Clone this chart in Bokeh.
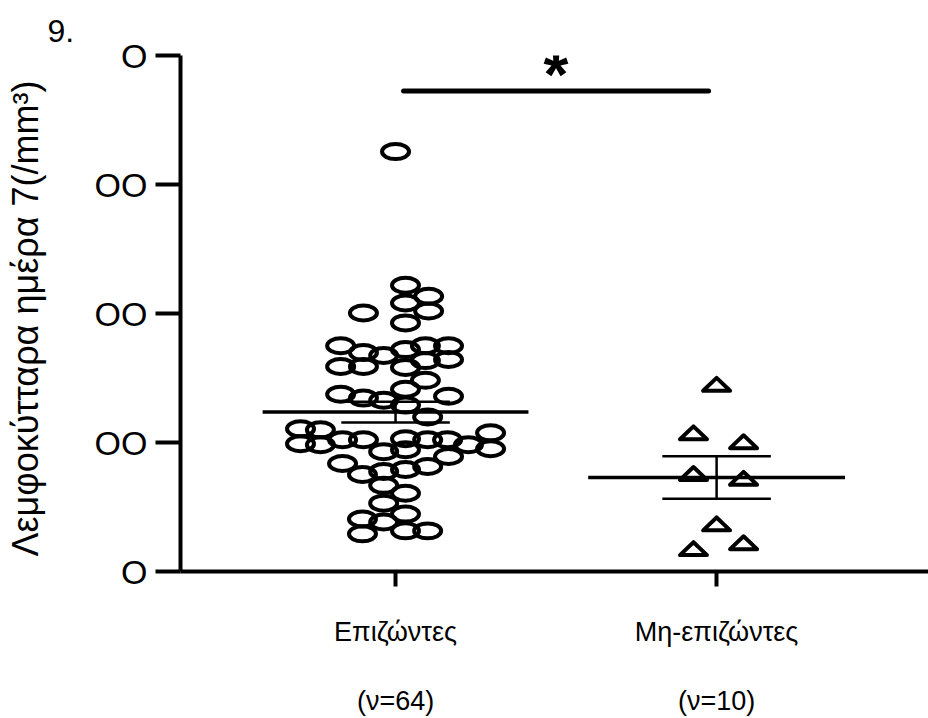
from bokeh.plotting import figure
from bokeh.models import FixedTicker, LinearAxis, Range1d
from bokeh.core.properties import value
from bokeh.embed import file_html
from bokeh.resources import INLINE

# ---------------- data ----------------
group_names = ["Επιζώντες", "Μη-επιζώντες"]
group_n = ["(ν=64)", "(ν=10)"]
y_ticks = [0, 1000, 2000, 3000, 4000]
y_tick_labels = ["O", "OO", "OO", "OO", "O"]
y_label = "Λεμφοκύτταρα  ημέρα 7(/mm³)"
panel_tag = "9."

surv_values = [3255, 2219, 2134, 2004, 2081, 2019, 1927, 1750, 1697, 1674, 1720, 1750,
               1750, 1589, 1589, 1582, 1635, 1643, 1482, 1413, 1374, 1344, 1328, 1359,
               1290, 1198, 1106, 1098, 990, 983, 1021, 1021, 1029, 1021, 1021, 983,
               1075, 952, 929, 944, 837, 752, 775, 791, 814, 891, 668, 607, 530, 445,
               407, 384, 292, 315, 315]
surv_jitter = [0.0, 0.031, 0.103, -0.100, 0.031, 0.103, 0.031, -0.171, -0.100, -0.037, 0.031, 0.093,
               0.165, -0.171, -0.100, 0.031, 0.093, 0.165, 0.093, 0.031, -0.171, -0.100, -0.037, 0.165,
               0.031, 0.100, -0.296, -0.234, -0.296, -0.234, -0.165, -0.100, 0.031, 0.100, 0.162, 0.227,
               0.296, 0.296, -0.037, 0.031, -0.165, -0.103, -0.037, 0.031, 0.100, 0.165, -0.037, 0.031, -0.037, 0.031,
               -0.103, -0.037, -0.103, 0.031, 0.100]

non_values = [1451, 1075, 1006, 760, 722, 369, 177, 223]
non_jitter = [0.0, -0.072, 0.084, -0.072, 0.084, 0.0, -0.072, 0.084]

means = [1236, 729]
sems = [80, 165]
sig_y = 3724
sig_text = "*"

# ---------------- figure ----------------
W, H = 928, 718
FONT = "Liberation Sans"
p = figure(width=W, height=H, output_backend="svg", toolbar_location=None,
           x_range=Range1d(0.3302, 2.660), y_range=Range1d(0, 4000),
           min_border_left=180, min_border_right=0, min_border_top=55, min_border_bottom=142)
p.outline_line_color = None
p.xgrid.visible = False
p.ygrid.visible = False
p.background_fill_color = "white"
p.border_fill_color = "white"

# panel tag as title
p.title.text = panel_tag
p.title.align = "left"
p.title.offset = -133
p.title.text_font = FONT
p.title.text_font_size = "32px"
p.title.text_font_style = "normal"
p.title.text_color = "black"
p.title.standoff = 28

# y axis
ya = p.yaxis[0]
ya.ticker = FixedTicker(ticks=y_ticks)
ya.major_label_overrides = {t: l for t, l in zip(y_ticks, y_tick_labels)}
ya.axis_line_width = 4
ya.axis_line_color = "black"
ya.major_tick_line_width = 4
ya.major_tick_out = 25
ya.major_tick_in = 0
ya.minor_tick_line_color = None
ya.major_label_text_font = FONT
ya.major_label_text_font_size = "34px"
ya.major_label_text_color = "black"
ya.major_label_standoff = 8
ya.axis_label = y_label
ya.axis_label_text_font = FONT
ya.axis_label_text_font_size = "36px"
ya.axis_label_text_font_style = "normal"
ya.axis_label_text_color = "black"
ya.axis_label_standoff = 46

# x axis
xa = p.xaxis[0]
xa.ticker = FixedTicker(ticks=[1, 2])
xa.major_label_overrides = {1: group_names[0], 2: group_names[1]}
xa.axis_line_width = 4
xa.axis_line_color = "black"
xa.major_tick_line_width = 4
xa.major_tick_out = 15
xa.major_tick_in = 0
xa.minor_tick_line_color = None
xa.major_label_text_font = FONT
xa.major_label_text_font_size = "27px"
xa.major_label_text_color = "black"
xa.major_label_standoff = 30

xa2 = LinearAxis(ticker=FixedTicker(ticks=[1, 2]),
                 major_label_overrides={1: group_n[0], 2: group_n[1]})
xa2.axis_line_color = None
xa2.major_tick_line_color = None
xa2.minor_tick_line_color = None
xa2.major_label_text_font = FONT
xa2.major_label_text_font_size = "27px"
xa2.major_label_text_color = "black"
xa2.major_label_standoff = 30
p.add_layout(xa2, "below")

# pixel scales (for marker shapes)
PX_X = 321.0             # px per category unit
PX_Y = 130.25 / 1000.0   # px per data unit

# group 1: hollow ellipses
sx = [1 + j for j in surv_jitter]
p.ellipse(x=sx, y=surv_values, width=27, height=15, width_units="screen", height_units="screen",
          fill_alpha=0, line_color="black", line_width=4)

# group 2: hollow flattened triangles
hw = 13.5 / PX_X
hh = 6.5 / PX_Y
tx = [2 + j for j in non_jitter]
xs = [[x - hw, x + hw, x] for x in tx]
ys = [[v - hh, v - hh, v + hh] for v in non_values]
p.patches(xs=xs, ys=ys, fill_alpha=0, line_color="black", line_width=4, line_join="round")

# mean lines
half_mean = [0.414, 0.40]
p.segment(x0=[g - h for g, h in zip([1, 2], half_mean)], y0=means,
          x1=[g + h for g, h in zip([1, 2], half_mean)], y1=means,
          line_color="black", line_width=3.5)
# SEM error bars
cap = 0.169
p.segment(x0=[1, 2], y0=[m - s for m, s in zip(means, sems)],
          x1=[1, 2], y1=[m + s for m, s in zip(means, sems)],
          line_color="black", line_width=2.5)
for sign in (1, -1):
    p.segment(x0=[g - cap for g in [1, 2]], y0=[m + sign * s for m, s in zip(means, sems)],
              x1=[g + cap for g in [1, 2]], y1=[m + sign * s for m, s in zip(means, sems)],
              line_color="black", line_width=2.5)

# significance bar
p.line(x=[1.025, 1.975], y=[sig_y, sig_y], line_color="black", line_width=5, line_cap="round")
p.text(x=[1.5], y=[3846], text=[sig_text], text_font=value(FONT), text_font_size="64px",
       text_font_style="bold", text_align="center", text_baseline="alphabetic", text_color="black")

open("out.html", "w").write(file_html(p, INLINE))
